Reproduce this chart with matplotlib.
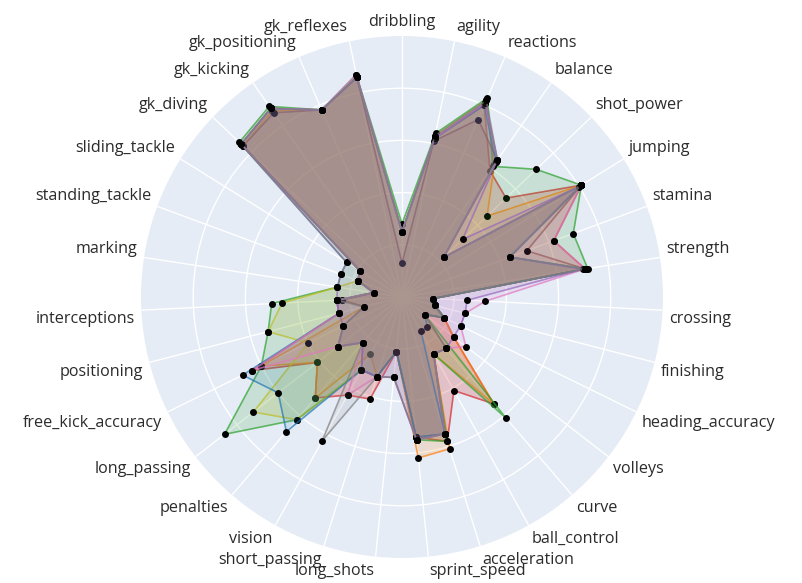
import numpy as np
import matplotlib
matplotlib.use("Agg")
import matplotlib.pyplot as plt

categories = ['dribbling', 'agility', 'reactions', 'balance', 'shot_power', 'jumping',
              'stamina', 'strength', 'crossing', 'finishing', 'heading_accuracy', 'volleys',
              'curve', 'ball_control', 'acceleration', 'sprint_speed', 'long_shots',
              'short_passing', 'vision', 'penalties', 'long_passing', 'free_kick_accuracy',
              'positioning', 'interceptions', 'marking', 'standing_tackle', 'sliding_tackle',
              'gk_diving', 'gk_kicking', 'gk_positioning', 'gk_reflexes']

gk_red    = [25, 62, 80, 59, 55, 81, 62, 71, 12, 13, 18, 25, 54, 41, 58, 54, 21, 41, 43, 51, 41, 64, 25, 25, 11, 18, 19, 85, 88, 78, 86]
gk_orange = [25, 63, 82, 62, 45, 81, 44, 71, 12, 13, 18, 25, 54, 25, 61, 62, 21, 32, 25, 51, 41, 60, 15, 23, 11, 18, 19, 84, 87, 78, 86]
gk_green  = [28, 64, 83, 61, 71, 81, 70, 72, 12, 13, 18, 11, 61, 25, 58, 55, 21, 32, 32, 62, 86, 60, 53, 50, 25, 25, 25, 86, 89, 78, 87]
gk_olive  = [25, 62, 81, 63, 22, 81, 44, 71, 12, 13, 18, 11, 26, 25, 55, 54, 21, 32, 32, 62, 72, 40, 53, 46, 25, 18, 19, 85, 88, 78, 86]
gk_brown  = [13, 61, 74, 64, 22, 81, 51, 71, 12, 13, 18, 11, 26, 25, 55, 54, 21, 32, 32, 23, 31, 25, 15, 23, 11, 18, 19, 84, 86, 78, 86]
gk_blue   = [25, 62, 80, 63, 22, 81, 44, 71, 12, 13, 18, 11, 15, 15, 55, 54, 21, 32, 32, 68, 60, 68, 25, 25, 11, 18, 19, 85, 88, 78, 86]
gk_pink   = [25, 62, 81, 64, 22, 81, 62, 71, 32, 25, 25, 31, 26, 25, 55, 55, 31, 32, 43, 23, 31, 64, 25, 25, 11, 18, 19, 85, 88, 78, 87]
gk_purple = [25, 62, 81, 64, 32, 80, 44, 70, 25, 25, 25, 25, 26, 25, 55, 55, 31, 32, 32, 23, 31, 25, 25, 25, 25, 25, 25, 85, 88, 78, 86]
gk_gray   = [25, 63, 82, 64, 22, 81, 44, 71, 12, 13, 18, 11, 26, 25, 55, 55, 31, 32, 63, 23, 31, 25, 15, 25, 11, 18, 19, 85, 88, 78, 86]

series_values = [gk_red, gk_orange, gk_green, gk_olive, gk_brown, gk_blue, gk_pink, gk_purple, gk_gray]
series_colors = ['#D62728', '#FF7F0E', '#2CA02C', '#BCBD22', '#8C564B', '#1F77B4', '#E377C2', '#9467BD', '#7F7F7F']
series_alpha = [0.22, 0.16, 0.16, 0.15, 0.12, 0.13, 0.12, 0.12, 0.12]

radial_max = 100
radial_grid = [20, 40, 60, 80]

fig = plt.figure(figsize=(8.03, 5.83), dpi=100)
fig.patch.set_facecolor('white')
ax = fig.add_axes([0.1756, 0.0429, 0.650, 0.8954], projection='polar')
ax.set_facecolor('#E5ECF6')
ax.set_theta_zero_location('N')
ax.set_theta_direction(-1)
ax.set_ylim(0, radial_max)
ax.spines['polar'].set_visible(False)

n = len(categories)
theta = np.arange(n) * 2 * np.pi / n
ax.set_thetagrids(np.degrees(theta), labels=[''] * n)
ax.set_rgrids(radial_grid, labels=[''] * len(radial_grid))
ax.grid(True, color='white', linewidth=1.0)
ax.set_axisbelow(True)
ax.tick_params(axis='both', length=0, pad=0)

z = 3
for vals, col, fa in zip(series_values, series_colors, series_alpha):
    v = np.array(vals, dtype=float)
    t_closed = np.append(theta, theta[0])
    v_closed = np.append(v, v[0])
    ax.fill(t_closed, v_closed, color=col, alpha=fa, lw=0, zorder=z)
    ax.plot(t_closed, v_closed, color=col, lw=1.2, alpha=0.7, zorder=z + 0.1)
    ax.plot(theta, v, 'o', color='black', ms=5.0, mew=0, zorder=z + 0.2)
    z += 1

pad = 4.5
for th, name in zip(theta, categories):
    s, c = np.sin(th), np.cos(th)
    ha = 'left' if s > 0.05 else ('right' if s < -0.05 else 'center')
    va = 'bottom' if c > 0 else 'top'
    ax.annotate(name, xy=(th, radial_max), xytext=(pad * s, pad * c),
                textcoords='offset points', ha=ha, va=va, fontsize=11.6,
                family=['Open Sans', 'DejaVu Sans'], color='#2b2b2b',
                annotation_clip=False)

fig.savefig('out.png', dpi=100)
